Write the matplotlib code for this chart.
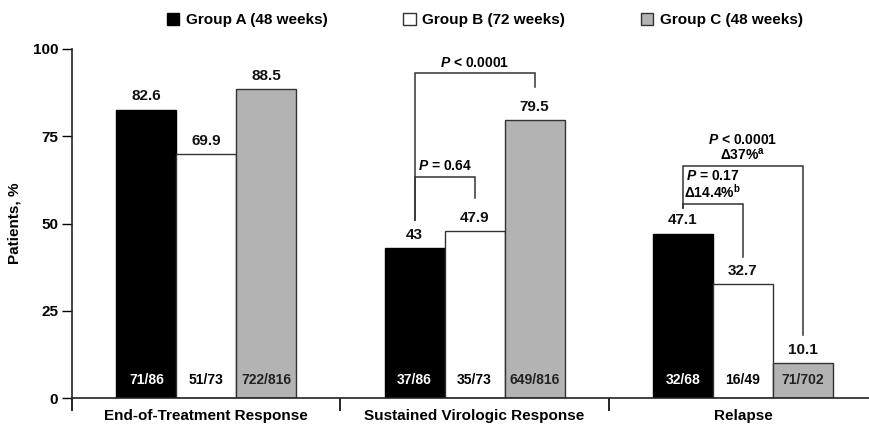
import numpy as np
import matplotlib
matplotlib.use('Agg')
import matplotlib.pyplot as plt
from matplotlib.patches import Patch

plt.rcParams['font.family'] = ['Liberation Sans', 'DejaVu Sans']
plt.rcParams['font.weight'] = 'bold'
plt.rcParams['axes.labelweight'] = 'bold'
plt.rcParams['mathtext.fontset'] = 'custom'
plt.rcParams['mathtext.it'] = 'Liberation Sans:bold:italic'
plt.rcParams['mathtext.rm'] = 'Liberation Sans:bold'

# data
categories = ['End-of-Treatment Response', 'Sustained Virologic Response', 'Relapse']
group_names = ['Group A (48 weeks)', 'Group B (72 weeks)', 'Group C (48 weeks)']
group_a = [82.6, 43, 47.1]
group_b = [69.9, 47.9, 32.7]
group_c = [88.5, 79.5, 10.1]
counts_a = ['71/86', '37/86', '32/68']
counts_b = ['51/73', '35/73', '16/49']
counts_c = ['722/816', '649/816', '71/702']

face_colors = ['#000000', '#ffffff', '#b3b3b3']
edge_colors = ['#000000', '#333333', '#333333']
count_colors = ['white', 'black', '#222222']
line_col = '#333333'

fig = plt.figure(figsize=(8.69, 4.29), dpi=100)
ax = fig.add_axes([0.083, 0.072, 0.917, 0.814])

x = np.arange(len(categories))
w = 0.2235
series = [group_a, group_b, group_c]
counts = [counts_a, counts_b, counts_c]
offsets = [-w, 0, w]

for i, vals in enumerate(series):
    ax.bar(x + offsets[i], vals, width=w, color=face_colors[i], edgecolor=edge_colors[i],
           linewidth=1.0, zorder=2)
    for xi, v, c in zip(x + offsets[i], vals, counts[i]):
        ax.text(xi, v + 3.8, f'{v:g}', ha='center', va='center', fontsize=11, color='#111111')
        ax.text(xi, 5.2, c, ha='center', va='center', fontsize=10, color=count_colors[i], zorder=3)

def bracket(x1, y1, x2, y2, ytop):
    ax.plot([x1, x1, x2, x2], [y1, ytop, ytop, y2], color=line_col, lw=1.1,
            solid_joinstyle='miter', zorder=1)

# Sustained Virologic Response comparisons
bracket(1 - w, 51.0, 1 + w, 89.1, 93.2)
bracket(1 - w, 51.0, 1.0, 57.3, 63.4)
ax.text(1 + 0.0, 95.9, r'$\it{P}$ < 0.0001', ha='center', va='center', fontsize=10)
ax.text(1 - w / 2, 66.4, r'$\it{P}$ = 0.64', ha='center', va='center', fontsize=10)

# Relapse comparisons
bracket(2 - w, 54.5, 2 + w, 18.0, 66.6)
bracket(2 - w, 54.5, 2.0, 40.5, 55.6)
ax.text(2.0, 67.4, '$\\it{P}$ < 0.0001\nΔ37%$^{\\mathrm{a}}$', ha='center', va='bottom',
        fontsize=10, linespacing=1.0)
ax.text(2 - w / 2, 56.4, '$\\it{P}$ = 0.17\nΔ14.4%$^{\\mathrm{b}}$', ha='center', va='bottom',
        fontsize=10, linespacing=1.0)

ax.set_xlim(-0.5, 2.47)
ax.set_ylim(0, 100)
ax.set_yticks([0, 25, 50, 75, 100])
ax.tick_params(axis='y', length=7, width=1, labelsize=11, pad=3)
ax.set_xticks([-0.5, 0.5, 1.5])
ax.set_xticklabels([])
ax.set_xticks(x, minor=True)
ax.set_xticklabels(categories, minor=True, fontsize=11)
ax.tick_params(axis='x', which='major', length=9, width=1.2, direction='out')
ax.tick_params(axis='x', which='minor', length=0, pad=8)
ax.set_ylabel('Patients, %', fontsize=11, labelpad=8)

for s in ['top', 'right']:
    ax.spines[s].set_visible(False)
for s in ['left', 'bottom']:
    ax.spines[s].set_linewidth(1.2)
    ax.spines[s].set_color('#222222')

handles = [Patch(facecolor=face_colors[i], edgecolor=edge_colors[i], linewidth=1.0)
           for i in range(3)]
fig.legend(handles, group_names, loc='center', bbox_to_anchor=(0.558, 0.953), ncol=3,
           frameon=False, fontsize=11, handlelength=0.8, handleheight=0.8,
           handletextpad=0.45, columnspacing=4.95)

fig.savefig('out.png', dpi=100)
